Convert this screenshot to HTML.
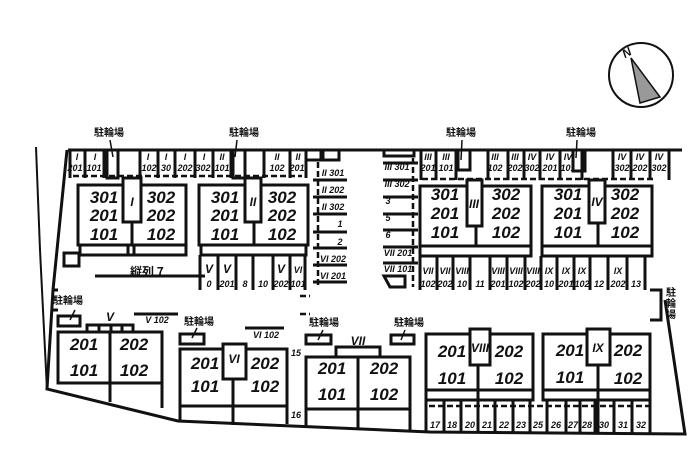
<!DOCTYPE html>
<html><head><meta charset="utf-8"><style>
html,body{margin:0;padding:0;background:#fff;width:700px;height:450px;overflow:hidden}
svg{display:block}
.b{font-family:"Liberation Sans","Noto Sans CJK JP",sans-serif;font-weight:bold;font-style:italic;fill:#111}
.u{font-size:17px}
.s{font-size:9px}
.j{font-family:"Noto Sans CJK JP","WenQuanYi Zen Hei",sans-serif;font-size:10px;font-weight:bold;fill:#111}
</style></head><body>
<svg width="700" height="450" viewBox="0 0 700 450" xmlns="http://www.w3.org/2000/svg">
<g fill="none" stroke="#111" stroke-width="3">
<polyline points="36,147 40,250 47,390" stroke-width="2"/>
<polyline points="68,150 682,150"/>
<polyline points="67,150 53,290 47,389 178,421 430,432 685,434 665,300"/>
<circle cx="641" cy="75" r="32" stroke-width="2"/>
</g>
<polygon points="631,58 640,103 660,97" fill="#999" stroke="#111" stroke-width="1.5"/>
<text x="622" y="57" class="b" font-size="12" transform="rotate(-30 626 52)">N</text>

<g fill="none" stroke="#111" stroke-width="3">
<rect x="78" y="185" width="108" height="60"/>
<line x1="132" y1="185" x2="132" y2="245"/>
<rect x="123" y="178" width="18" height="44" fill="#fff"/>
<rect x="80" y="245" width="106" height="10"/>
<line x1="128" y1="245" x2="128" y2="255"/><line x1="134" y1="245" x2="134" y2="255"/>
<rect x="64" y="253" width="15" height="13"/>
<rect x="199" y="185" width="109" height="60"/>
<line x1="254" y1="185" x2="254" y2="245"/>
<rect x="245" y="178" width="16" height="44" fill="#fff"/>
<rect x="201" y="245" width="105" height="10"/>
<rect x="420" y="186" width="111" height="60"/>
<line x1="476" y1="186" x2="476" y2="246"/>
<rect x="467" y="180" width="15" height="46" fill="#fff"/>
<rect x="420" y="246" width="111" height="10"/>
<rect x="542" y="186" width="110" height="60"/>
<line x1="598" y1="186" x2="598" y2="246"/>
<rect x="589" y="180" width="16" height="43" fill="#fff"/>
<rect x="542" y="246" width="110" height="10"/>
<path d="M70 150V178M85 150V178M104 150V178M140 150V178M158 150V178M175 150V178M195 150V178M213 150V178M231 150V178M264 150V178M290 150V178M306 150V178"/>
<rect x="107" y="150" width="11" height="28"/><rect x="233" y="150" width="12" height="28"/>
<rect x="306" y="150" width="15" height="10"/><rect x="323" y="150" width="16" height="10"/>
<path d="M421 150V180M436 150V180M456 150V180M488 150V180M508 150V180M524 150V180M540 150V180M560 150V180M582 150V180M613 150V180M631 150V180M650 150V180M669 150V180"/>
<rect x="458" y="150" width="12" height="20"/><rect x="573" y="150" width="12" height="21"/>
<rect x="384" y="150" width="30" height="6"/>
<path d="M200 255V290M218 255V290M236 255V290M253 255V290M273 255V290M290 255V290M305 255V290"/>
<line x1="95" y1="276" x2="205" y2="276"/>
<path d="M313 180H347M313 197H347M313 214H347M313 232H347M313 248H347M313 265H347M313 282H347"/>
<path d="M383 163H418M383 180H418M383 197H418M383 214H418M383 230H418M383 247H418M383 263H418"/>
<path d="M420 256V290M437 256V290M453 256V290M470 256V290M490 256V290M507 256V290M525 256V290M541 256V290M557 256V290M574 256V290M590 256V290M608 256V290M627 256V290M645 256V290"/>
<polygon points="384,276 405,276 405,287 390,287"/>
<polyline points="650,290 661,290 661,320 650,320"/>
<rect x="58" y="332" width="104" height="51"/>
<line x1="110" y1="332" x2="110" y2="402"/>
<line x1="58" y1="383" x2="162" y2="383"/>
<line x1="162" y1="383" x2="162" y2="408"/>
<path d="M87 332V325H133V332M99 325V332M111 325V332M122 325V332"/>
<path d="M53 310H58M53 290H58"/>
<rect x="58" y="316" width="22" height="10"/>
<line x1="134" y1="314" x2="178" y2="314"/>
<rect x="180" y="349" width="107" height="57"/>
<line x1="233" y1="349" x2="233" y2="425"/>
<line x1="180" y1="406" x2="287" y2="406"/>
<path d="M180 406V421M287 406V424"/>
<rect x="223" y="344" width="23" height="35" fill="#fff"/>
<rect x="180" y="334" width="24" height="10"/>
<line x1="245" y1="328" x2="284" y2="328"/>
<rect x="306" y="357" width="104" height="52"/>
<line x1="358" y1="357" x2="358" y2="430"/>
<path d="M306 409V428M410 409V430M306 409H410"/>
<path d="M336 357V347H380V357"/>
<rect x="306" y="335" width="25" height="9"/>
<rect x="391" y="335" width="23" height="9"/>
<rect x="426" y="334" width="107" height="56"/>
<line x1="478" y1="365" x2="478" y2="433"/>
<rect x="426" y="390" width="107" height="10"/>
<rect x="470" y="329" width="20" height="36" fill="#fff"/>
<rect x="543" y="334" width="107" height="56"/>
<line x1="598" y1="365" x2="598" y2="433"/>
<rect x="543" y="390" width="107" height="10"/>
<rect x="587" y="329" width="23" height="36" fill="#fff"/>
<path d="M426 400V433M444 400V433M461 400V433M495 400V433M513 400V433M530 400V433M547 400V433M566 400V433M580 400V433M595 400V433M614 400V433M632 400V433M650 400V433"/>
</g>
<g fill="none" stroke="#111" stroke-width="2.5" stroke-dasharray="6,3">
<path d="M73 176H302M422 179H655M429 406H650M318 162V285M413 158V287M300 296H310M300 314H310"/>
</g>
<g stroke="#111" stroke-width="1.5">
<path d="M110 140L113 157M237 140L235 157M462 140L461 160M577 140L576 158M75 310L70 320M197 328L192 338M323 330L318 340M405 330L401 340"/>
</g>

<g class="j">
<text x="94" y="136">駐輪場</text><text x="229" y="136">駐輪場</text>
<text x="446" y="136">駐輪場</text><text x="566" y="136">駐輪場</text>
<text x="53" y="304">駐輪場</text><text x="184" y="325">駐輪場</text>
<text x="309" y="326">駐輪場</text><text x="394" y="326">駐輪場</text>
<text x="666" y="296">駐</text><text x="666" y="307">輪</text><text x="666" y="318">場</text>
<text x="130" y="276" font-size="12">縦列 7</text>
</g>
<g class="b u" text-anchor="middle">
<text x="104" y="203">301</text><text x="104" y="221">201</text><text x="104" y="240">101</text>
<text x="161" y="203">302</text><text x="161" y="221">202</text><text x="161" y="240">102</text>
<text x="225" y="203">301</text><text x="225" y="221">201</text><text x="225" y="240">101</text>
<text x="282" y="203">302</text><text x="282" y="221">202</text><text x="282" y="240">102</text>
<text x="445" y="200">301</text><text x="445" y="219">201</text><text x="445" y="238">101</text>
<text x="506" y="200">302</text><text x="506" y="219">202</text><text x="506" y="238">102</text>
<text x="568" y="200">301</text><text x="568" y="219">201</text><text x="568" y="238">101</text>
<text x="625" y="200">302</text><text x="625" y="219">202</text><text x="625" y="238">102</text>
<text x="84" y="350">201</text><text x="84" y="376">101</text>
<text x="134" y="350">202</text><text x="134" y="376">102</text>
<text x="205" y="369">201</text><text x="205" y="392">101</text>
<text x="265" y="369">202</text><text x="265" y="392">102</text>
<text x="332" y="374">201</text><text x="332" y="400">101</text>
<text x="384" y="374">202</text><text x="384" y="400">102</text>
<text x="452" y="357">201</text><text x="452" y="384">101</text>
<text x="509" y="357">202</text><text x="509" y="384">102</text>
<text x="570" y="356">201</text><text x="570" y="383">101</text>
<text x="628" y="356">202</text><text x="628" y="384">102</text>
</g>
<g class="b" font-size="12" text-anchor="middle">
<text x="132" y="206">I</text><text x="253" y="206">II</text><text x="474" y="208">III</text><text x="597" y="206">IV</text>
<text x="110" y="321">V</text><text x="234" y="363">VI</text><text x="358" y="345">VII</text><text x="480" y="352">VIII</text><text x="598" y="352">IX</text>
</g>
<g class="b s" text-anchor="middle">
<text x="77" y="160">I</text><text x="75" y="171">201</text>
<text x="95" y="160">I</text><text x="94" y="171">101</text>
<text x="148" y="160">I</text><text x="149" y="171">102</text>
<text x="166" y="160">I</text><text x="166" y="171">30</text>
<text x="185" y="160">I</text><text x="185" y="171">202</text>
<text x="204" y="160">I</text><text x="203" y="171">302</text>
<text x="222" y="160">II</text><text x="222" y="171">101</text>
<text x="277" y="160">II</text><text x="277" y="171">102</text>
<text x="298" y="160">II</text><text x="297" y="171">201</text>
<text x="428" y="160">III</text><text x="428" y="171">201</text>
<text x="446" y="160">III</text><text x="446" y="171">101</text>
<text x="495" y="160">III</text><text x="495" y="171">102</text>
<text x="515" y="160">III</text><text x="515" y="171">202</text>
<text x="532" y="160">IV</text><text x="532" y="171">302</text>
<text x="550" y="160">IV</text><text x="550" y="171">201</text>
<text x="568" y="160">IV</text><text x="568" y="171">101</text>
<text x="622" y="160">IV</text><text x="622" y="171">302</text>
<text x="640" y="160">IV</text><text x="640" y="171">202</text>
<text x="659" y="160">IV</text><text x="659" y="171">302</text>
<text x="333" y="176">II 301</text><text x="333" y="193">II 202</text><text x="333" y="210">II 302</text>
<text x="340" y="227">1</text><text x="340" y="245">2</text><text x="333" y="262">VI 202</text><text x="333" y="279">VI 201</text>
<text x="397" y="170">III 301</text><text x="397" y="187">III 302</text><text x="388" y="204">3</text><text x="388" y="221">5</text><text x="388" y="238">6</text><text x="398" y="256">VII 201</text><text x="398" y="272">VII 101</text>
<text x="209" y="273" font-size="12">V</text><text x="209" y="287">0</text>
<text x="227" y="273" font-size="12">V</text><text x="227" y="287">201</text>
<text x="245" y="287">8</text><text x="263" y="287">10</text>
<text x="281" y="273" font-size="12">V</text><text x="281" y="287">202</text>
<text x="298" y="273">VI</text><text x="298" y="287">101</text>
<text x="428" y="274">VII</text><text x="428" y="287">102</text>
<text x="445" y="274">VII</text><text x="445" y="287">202</text>
<text x="462" y="274">VIII</text><text x="462" y="287">10</text>
<text x="480" y="287">11</text>
<text x="498" y="274">VIII</text><text x="498" y="287">201</text>
<text x="516" y="274">VIII</text><text x="516" y="287">102</text>
<text x="533" y="274">VIII</text><text x="533" y="287">202</text>
<text x="549" y="274">IX</text><text x="549" y="287">10</text>
<text x="566" y="274">IX</text><text x="566" y="287">201</text>
<text x="582" y="274">IX</text><text x="582" y="287">102</text>
<text x="599" y="287">12</text>
<text x="618" y="274">IX</text><text x="618" y="287">202</text>
<text x="636" y="287">13</text>
<text x="157" y="323">V 102</text><text x="266" y="338">VI 102</text>
<text x="296" y="356">15</text><text x="296" y="418">16</text>
<text x="435" y="428">17</text><text x="452" y="428">18</text><text x="470" y="428">20</text><text x="487" y="428">21</text><text x="504" y="428">22</text><text x="521" y="428">23</text><text x="538" y="428">25</text><text x="556" y="428">26</text><text x="573" y="428">27</text><text x="587" y="428">28</text><text x="604" y="428">30</text><text x="623" y="428">31</text><text x="641" y="428">32</text>
</g>
</svg>
</body></html>
